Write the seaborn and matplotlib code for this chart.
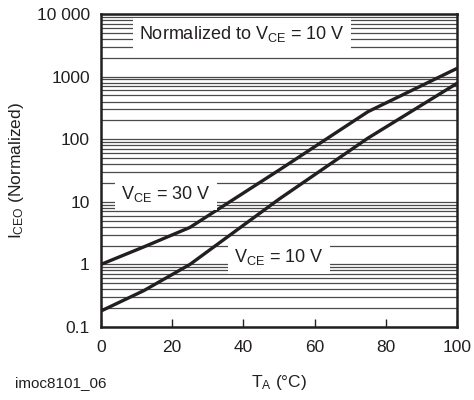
import numpy as np
import pandas as pd
import seaborn as sns
import matplotlib.pyplot as plt
from matplotlib.ticker import LogLocator, FixedLocator, NullFormatter

# values
temp_c = [0, 12, 25, 50, 75, 100]
iceo_30v = [1.0, 1.9, 3.9, 32, 275, 1350]
iceo_10v = [0.18, 0.38, 1.0, 11, 104, 780]

ytick_vals = [0.1, 1, 10, 100, 1000, 10000]
ytick_labels = ["0.1", "1", "10", "100", "1000", "10 000"]
xtick_vals = [0, 20, 40, 60, 80, 100]

df = pd.DataFrame({
    "T": temp_c * 2,
    "I": iceo_30v + iceo_10v,
    "curve": ["30 V"] * len(temp_c) + ["10 V"] * len(temp_c),
})

sns.set_style("ticks")
plt.rcParams["font.family"] = ["Liberation Sans", "DejaVu Sans"]
plt.rcParams["mathtext.default"] = "regular"

fig = plt.figure(figsize=(4.74, 4.0), dpi=100)
ax = fig.add_axes([0.213, 0.1825, 0.751, 0.7825])

ax.set_yscale("log")
ax.set_ylim(0.1, 10000)
ax.set_xlim(0, 100)

# horizontal grid at every decade and sub-decade step
ax.yaxis.set_major_locator(FixedLocator(ytick_vals))
ax.set_yticklabels(ytick_labels)
ax.yaxis.set_minor_locator(LogLocator(base=10, subs=np.arange(2, 10), numticks=50))
ax.yaxis.set_minor_formatter(NullFormatter())
ax.grid(True, which="both", axis="y", color="#4a4a4a", linewidth=0.9)
ax.grid(False, axis="x")
ax.set_axisbelow(True)

sns.lineplot(data=df, x="T", y="I", hue="curve", palette=["#231f20", "#231f20"],
             linewidth=2.4, legend=False, ax=ax, zorder=3)

ax.set_xticks(xtick_vals)
ax.tick_params(axis="x", direction="in", length=6, width=1, colors="#231f20",
               labelcolor="#231f20", labelsize=12.5, pad=9)
ax.tick_params(axis="y", which="both", length=0, labelsize=12.5, pad=8,
               labelcolor="#231f20")

for s in ax.spines.values():
    s.set_color("#231f20")
    s.set_linewidth(1.8)

fs = 13
box = dict(boxstyle="square,pad=0.35", fc="white", ec="none")
ax.text(39.6, 4800, "Normalized to V$_{CE}$ = 10 V", ha="center", va="center",
        fontsize=fs, color="#231f20", bbox=box, zorder=4)
ax.text(18.3, 13.5, "V$_{CE}$ = 30 V", ha="center", va="center",
        fontsize=fs, color="#231f20", bbox=box, zorder=4)
ax.text(50, 1.3, "V$_{CE}$ = 10 V", ha="center", va="center",
        fontsize=fs, color="#231f20", bbox=box, zorder=4)

ax.set_xlabel("T$_A$ (°C)", fontsize=12.5, color="#231f20", labelpad=13)
ax.set_ylabel("I$_{CEO}$ (Normalized)", fontsize=12.5, color="#231f20", labelpad=8)
fig.text(0.032, 0.042, "imoc8101_06", fontsize=11, color="#231f20", va="center")

fig.savefig("out.png", dpi=100, facecolor="white")
plt.close(fig)
